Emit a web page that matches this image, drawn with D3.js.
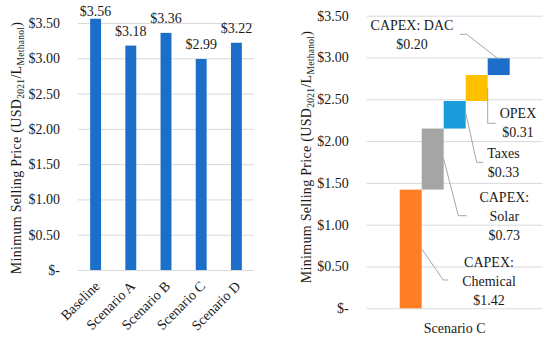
<!DOCTYPE html>
<html><head><meta charset="utf-8">
<script src="https://cdn.jsdelivr.net/npm/d3@7"></script>
</head>
<body style="margin:0;background:#fff"><svg id="c" width="550" height="341"></svg>
<script>
// ---- data ----
const scenarios = ["Baseline","Scenario A","Scenario B","Scenario C","Scenario D"];
const msp = [3.56, 3.18, 3.36, 2.99, 3.22];
const yTicks = [0, 0.5, 1.0, 1.5, 2.0, 2.5, 3.0, 3.5];
const wfCategory = ["Scenario C"];
const wfParts = ["CAPEX: Chemical","CAPEX: Solar","Taxes","OPEX","CAPEX: DAC"];
const wfValues = [1.42, 0.73, 0.33, 0.31, 0.20];
const wfLabelLines = [["CAPEX:","Chemical","$1.42"],["CAPEX:","Solar","$0.73"],["Taxes","$0.33"],["OPEX","$0.31"],["CAPEX: DAC","$0.20"]];
const wfColors = ["#FF7F27","#A5A5A5","#1A9DDA","#FFC000","#1C6FC8"];
const barColor = "#1C6FC8";

const FONT = "'Liberation Serif', serif";
const FS = 14;
const TXT = "#1a1a1a";
const svg = d3.select("#c");
const fmt = v => v === 0 ? "$-" : "$" + v.toFixed(2);
function st(sel, size){ return sel.style("font-family",FONT).style("font-size",(size||FS)+"px").style("fill",TXT); }

function yTitle(g, x, yc){
  const t = st(g.append("text")).attr("transform",`translate(${x},${yc}) rotate(-90)`)
    .attr("text-anchor","middle").style("letter-spacing","0.3px");
  t.append("tspan").text("Minimum Selling Price (USD");
  t.append("tspan").text("2021").style("font-size","9.5px").attr("dy",3);
  t.append("tspan").text("/L").attr("dy",-3);
  t.append("tspan").text("Methanol").style("font-size","9.5px").attr("dy",3);
  t.append("tspan").text(")").attr("dy",-3);
}

// ---- left chart ----
const gL = svg.append("g");
const yL = d3.scaleLinear().domain([0,3.5]).range([270,23]);
const xL = d3.scaleBand().domain(scenarios).range([78,254]).paddingInner(0.69).paddingOuter(0.345);
const axL = d3.axisLeft(yL).tickValues(yTicks).tickFormat(fmt).tickSize(-(254-78)).tickPadding(18);
const aL = gL.append("g").attr("transform","translate(78,0)").call(axL);
aL.select(".domain").remove();
aL.selectAll(".tick line").attr("stroke","#d9d9d9").attr("stroke-width",1);
st(aL.selectAll(".tick text"));
gL.selectAll("rect.b").data(msp).join("rect").attr("class","b")
  .attr("x",(d,i)=>xL(scenarios[i])).attr("width",xL.bandwidth())
  .attr("y",d=>yL(d)).attr("height",d=>yL(0)-yL(d)).attr("fill",barColor);
st(gL.selectAll("text.v").data(msp).join("text").attr("class","v")
  .attr("x",(d,i)=>xL(scenarios[i])+xL.bandwidth()/2)
  .attr("y",d=>Math.max(yL(d)-10,16)).attr("text-anchor","middle")
  .text(d=>fmt(d)));
st(gL.selectAll("text.xl").data(scenarios).join("text").attr("class","xl")
  .attr("transform",d=>`translate(${xL(d)+xL.bandwidth()/2+5},${287}) rotate(-45)`)
  .attr("text-anchor","end").text(d=>d));
yTitle(gL, 21, 148);

// ---- right chart ----
const gR = svg.append("g");
const yR = d3.scaleLinear().domain([0,3.5]).range([308.3,15.7]);
const xOuter = d3.scaleBand().domain(wfCategory).range([366.7,542.7]).paddingInner(0.375).paddingOuter(0.1875);
const x0 = xOuter(wfCategory[0]);
const xR = d3.scaleBand().domain(wfParts).range([x0, x0+xOuter.bandwidth()]).padding(0);
const axR = d3.axisLeft(yR).tickValues(yTicks).tickFormat(fmt).tickSize(-(542.7-366.7)).tickPadding(18);
const aR = gR.append("g").attr("transform","translate(366.7,0)").call(axR);
aR.select(".domain").remove();
aR.selectAll(".tick line").attr("stroke","#d9d9d9").attr("stroke-width",1);
st(aR.selectAll(".tick text"));

const cum = [];
wfValues.reduce((s,v,i)=>{cum.push([s,s+v]);return s+v;},0);
gR.selectAll("rect.w").data(wfValues).join("rect").attr("class","w")
  .attr("x",(d,i)=>xR(wfParts[i])).attr("width",xR.bandwidth())
  .attr("y",(d,i)=>yR(cum[i][1])).attr("height",(d,i)=>yR(cum[i][0])-yR(cum[i][1]))
  .attr("fill",(d,i)=>wfColors[i]);
st(gR.append("text").attr("x",x0+xOuter.bandwidth()/2).attr("y",333).attr("text-anchor","middle")
  .text(wfCategory[0]));
yTitle(gR, 311, 157);

// leader lines & labels (layout offsets)
const bw = xR.bandwidth();
const layout = [
  {tx:489, ty:266.7, lead:(x,yt,yb)=>[[x+bw,(yt+yb)/2],[443.3,280],[448.3,280]]},
  {tx:504.3, ty:202.3, lead:(x,yt,yb)=>[[x+bw,(yt+yb)/2],[458.3,215.7],[466.7,215.7]]},
  {tx:503.5, ty:158, lead:(x,yt,yb)=>[[x+bw,(yt+yb)/2-2],[476.7,162.3],[483.3,162.3]]},
  {tx:518, ty:118, lead:(x,yt,yb)=>[[x+bw,(yt+yb)/2],[x+bw,123.3],[495.7,123.3]]},
  {tx:412, ty:30, lead:(x,yt,yb)=>[[x+bw*0.45,yt],[466.7,34.3],[460,34.3]]}
];
wfValues.forEach((v,i)=>{
  const x = xR(wfParts[i]), yt = yR(cum[i][1]), yb = yR(cum[i][0]);
  const L = layout[i];
  gR.append("path").attr("d",d3.line()(L.lead(x,yt,yb))).attr("fill","none")
    .attr("stroke","#a6a6a6").attr("stroke-width",1);
  const t = st(gR.append("text").attr("text-anchor","middle"));
  wfLabelLines[i].forEach((ln,j)=>{
    t.append("tspan").attr("x",L.tx).attr("y",L.ty+j*19).text(ln);
  });
});
</script></body></html>
